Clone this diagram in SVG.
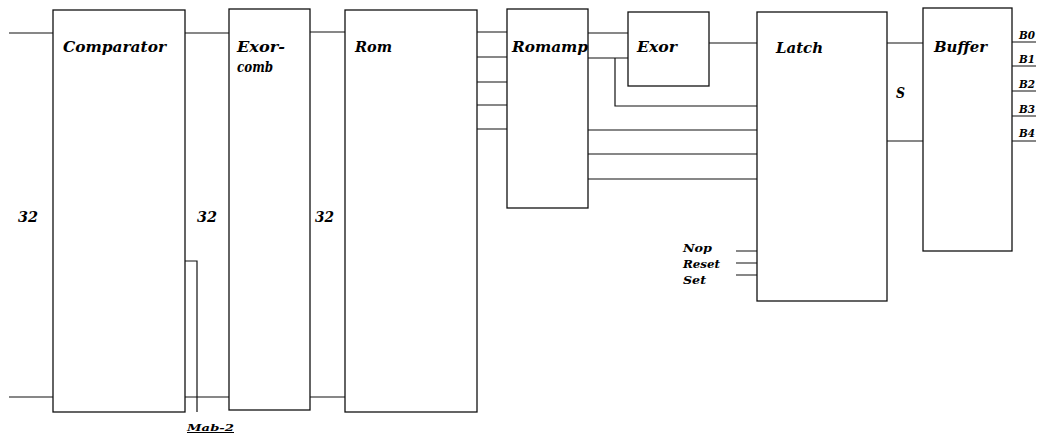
<svg xmlns="http://www.w3.org/2000/svg" width="1044" height="436" viewBox="0 0 1044 436">
<style>
.box{fill:#fff;stroke:#111;stroke-width:1.3}
.ln{fill:none;stroke:#111;stroke-width:1.2}
.t{font-family:"DejaVu Serif","Liberation Serif",serif;font-style:italic;font-weight:bold;fill:#000}
.big{font-size:15px}
.sm{font-size:11px}
</style>
<rect width="1044" height="436" fill="#fff"/>
<g id="connectors" class="ln">
<path d="M9,33H53M9,397H53"/>
<path d="M185,33H229M185,397H229"/>
<path d="M310,32H345M310,397H345"/>
<path d="M185,261H197V412"/>
<path d="M477,32H507M477,57H507M477,82H507M477,105H507M477,129H507"/>
<path d="M588,33H628M588,58H628"/>
<path d="M615,58V106H757"/>
<path d="M588,130H757M588,154H757M588,179H757"/>
<path d="M709,43H757"/>
<path d="M736,251H757M736,263H757M736,275H757"/>
<path d="M887,43H923M887,141H923"/>
<path d="M1012,42H1036M1012,66H1036M1012,91H1036M1012,116H1036M1012,141H1036"/>
</g>
<g id="comparator">
<rect class="box" x="53" y="10" width="132" height="402"/>
<text class="t big" x="63" y="52" textLength="103" lengthAdjust="spacingAndGlyphs">Comparator</text>
</g>
<g id="exorcomb">
<rect class="box" x="229" y="9" width="81" height="401"/>
<text class="t big" x="237" y="52" textLength="48" lengthAdjust="spacingAndGlyphs">Exor-</text>
<text class="t big" x="237" y="72" textLength="36" lengthAdjust="spacingAndGlyphs">comb</text>
</g>
<g id="rom">
<rect class="box" x="345" y="10" width="132" height="402"/>
<text class="t big" x="355" y="52" textLength="37" lengthAdjust="spacingAndGlyphs">Rom</text>
</g>
<g id="romamp">
<rect class="box" x="507" y="9" width="81" height="199"/>
<text class="t big" x="512" y="52" textLength="76" lengthAdjust="spacingAndGlyphs">Romamp</text>
</g>
<g id="exor">
<rect class="box" x="628" y="12" width="81" height="74"/>
<text class="t big" x="637" y="52" textLength="40" lengthAdjust="spacingAndGlyphs">Exor</text>
</g>
<g id="latch">
<rect class="box" x="757" y="12" width="130" height="289"/>
<text class="t big" x="776" y="53" textLength="47" lengthAdjust="spacingAndGlyphs">Latch</text>
</g>
<g id="buffer">
<rect class="box" x="923" y="8" width="89" height="243"/>
<text class="t big" x="934" y="52" textLength="53" lengthAdjust="spacingAndGlyphs">Buffer</text>
</g>
<g id="labels">
<text class="t" font-size="15" x="18" y="222" textLength="20" lengthAdjust="spacingAndGlyphs">32</text>
<text class="t" font-size="15" x="197" y="222" textLength="20" lengthAdjust="spacingAndGlyphs">32</text>
<text class="t" font-size="15" x="315" y="222" textLength="19" lengthAdjust="spacingAndGlyphs">32</text>
<text class="t" font-size="15" x="896" y="98" textLength="9" lengthAdjust="spacingAndGlyphs">S</text>
<text class="t sm" x="683" y="252" textLength="29" lengthAdjust="spacingAndGlyphs">Nop</text>
<text class="t sm" x="683" y="268" textLength="37" lengthAdjust="spacingAndGlyphs">Reset</text>
<text class="t sm" x="683" y="284" textLength="23" lengthAdjust="spacingAndGlyphs">Set</text>
<text class="t sm" x="1019" y="39" textLength="16" lengthAdjust="spacingAndGlyphs">B0</text>
<text class="t sm" x="1019" y="63" textLength="16" lengthAdjust="spacingAndGlyphs">B1</text>
<text class="t sm" x="1019" y="88" textLength="16" lengthAdjust="spacingAndGlyphs">B2</text>
<text class="t sm" x="1019" y="113" textLength="16" lengthAdjust="spacingAndGlyphs">B3</text>
<text class="t sm" x="1019" y="137" textLength="16" lengthAdjust="spacingAndGlyphs">B4</text>
<text class="t" font-size="10" x="187" y="431" textLength="47" lengthAdjust="spacingAndGlyphs" text-decoration="underline">Mab-2</text>
</g>
</svg>
